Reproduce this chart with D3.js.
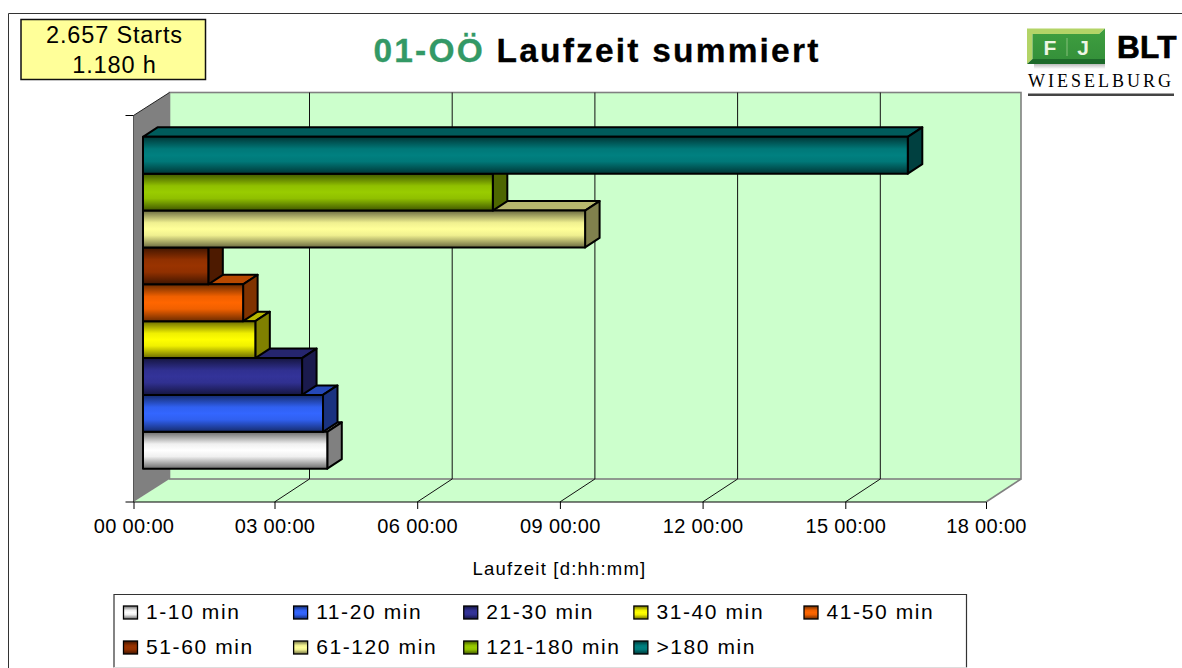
<!DOCTYPE html>
<html><head><meta charset="utf-8">
<script src="https://cdn.jsdelivr.net/npm/d3@7"></script>
<style>html,body{margin:0;padding:0;background:#fff}svg{display:block}text{font-family:"Liberation Sans",Arial,sans-serif;fill:#000}</style>
</head><body><svg id="c" width="1182" height="668"></svg>
<script>
const categories=["1-10 min","11-20 min","21-30 min","31-40 min","41-50 min","51-60 min","61-120 min","121-180 min",">180 min"];
const durationsDays=[3.91,3.82,3.38,2.39,2.13,1.39,9.33,7.39,16.13];
const faceColors=["#ffffff","#3366ff","#333399","#ffff00","#ff6600","#993300","#ffff99","#99cc00","#008080"];
const tickDays=[0,3,6,9,12,15,18];
const tickLabels=["00 00:00","03 00:00","06 00:00","09 00:00","12 00:00","15 00:00","18 00:00"];
const titleCode="01-OÖ";
const titleText="Laufzeit summiert";
const infoLines=["2.657 Starts","1.180 h"];
const axisTitle="Laufzeit [d:hh:mm]";

const svg=d3.select("#c");
const defs=svg.append("defs");
const x=d3.scaleLinear().domain([0,3,15,18]).range([133.5,274.5,845.3,986]);
const y=d3.scaleBand().domain(categories).range([502,115.5]).paddingInner(0).paddingOuter(0.74);
const wall={dx:35,dy:-23}, barOff={dx:9.5,dy:-6}, barDepth={dx:14.5,dy:-9.5};
const yTop=115.5,yBot=502;
const path=p=>"M"+p.map(q=>q.join(",")).join("L")+"Z";
const shade=(c,k)=>{const r=d3.rgb(c);return d3.rgb(r.r*k,r.g*k,r.b*k).formatHex();};

categories.forEach((c,i)=>{
  const g=defs.append("linearGradient").attr("id","g"+i).attr("x1",0).attr("x2",0).attr("y1",0).attr("y2",1);
  [[0,.42],[.33,.94],[.5,1],[.67,.94],[1,.42]].forEach(([o,k])=>g.append("stop").attr("offset",o).attr("stop-color",shade(faceColors[i],k)));
});

// frame
svg.append("path").attr("d","M8.5,668V13.5H1182").attr("fill","none").attr("stroke","#333").attr("stroke-width",1);

// info box
svg.append("rect").attr("x",21).attr("y",19.5).attr("width",184.5).attr("height",60).attr("fill","#ffff99").attr("stroke","#111").attr("stroke-width",1.5);
infoLines.forEach((t,i)=>svg.append("text").attr("x",114.5).attr("y",[42.7,72.5][i]).attr("text-anchor","middle").attr("font-size",23.5).style("letter-spacing","0.85px").text(t));

// title
const tt=svg.append("text").attr("x",597).attr("y",62).attr("text-anchor","middle").attr("font-size",33.5).attr("font-weight","bold").attr("stroke-width",.3).style("letter-spacing","2.2px");
tt.append("tspan").style("fill","#339966").attr("stroke","#339966").text(titleCode+" ");
tt.append("tspan").attr("stroke","#000").text(titleText);

// logo
const lg=svg.append("g");
const lgGrad=defs.append("linearGradient").attr("id","lg").attr("x1",0).attr("x2",0).attr("y1",0).attr("y2",1);
lgGrad.append("stop").attr("offset",0).attr("stop-color","#3f9f40");
lgGrad.append("stop").attr("offset",1).attr("stop-color","#35913a");
const lgShadow=defs.append("linearGradient").attr("id","lgs").attr("x1",0).attr("x2",0).attr("y1",0).attr("y2",1);
lgShadow.append("stop").attr("offset",0).attr("stop-color","#bbbbbb");
lgShadow.append("stop").attr("offset",1).attr("stop-color","#ffffff");
lg.append("rect").attr("x",1034).attr("y",64).attr("width",71).attr("height",5).attr("fill","url(#lgs)");
lg.append("path").attr("d","M1027,28.5H1105L1099,34H1032.5V59L1027,64Z").attr("fill","#b3d467");
lg.append("path").attr("d","M1027,64L1032.5,59H1105V64Z").attr("fill","#1d6a2a");
lg.append("path").attr("d","M1032.5,34H1099L1105,28.5V59H1032.5Z").attr("fill","url(#lg)");
lg.append("text").attr("x",1050).attr("y",55).attr("text-anchor","middle").attr("font-size",21).attr("font-weight","bold").style("fill","#eef5e4").text("F");
lg.append("rect").attr("x",1066.5).attr("y",38).attr("width",1).attr("height",18).attr("fill","#86c07a");
lg.append("text").attr("x",1083).attr("y",55).attr("text-anchor","middle").attr("font-size",21).attr("font-weight","bold").style("fill","#eef5e4").text("J");
lg.append("text").attr("x",1117).attr("y",58).attr("font-size",31.5).attr("font-weight","bold").attr("stroke","#000").attr("stroke-width",.7).style("letter-spacing","0.3px").text("BLT");
lg.append("text").attr("x",1028).attr("y",86.7).attr("font-size",18).style("font-family","'Liberation Serif',serif").style("letter-spacing","3px").text("WIESELBURG");
lg.append("rect").attr("x",1028).attr("y",93.5).attr("width",146).attr("height",2.5).attr("fill","#444");

// walls
const x0=x(0),xMax=x(18);
const plotG=svg.append("g");
plotG.append("path").attr("d",path([[x0,yBot],[x0+wall.dx,yBot+wall.dy],[xMax+wall.dx,yBot+wall.dy],[xMax,yBot]])).attr("fill","#ccffcc");
plotG.append("rect").attr("x",x0+wall.dx+1).attr("y",yTop+wall.dy).attr("width",xMax-x0-1).attr("height",yBot-yTop).attr("fill","#ccffcc").attr("stroke","#808080").attr("stroke-width",1.6);
plotG.append("path").attr("d",path([[x0,yTop],[x0+wall.dx+1,yTop+wall.dy],[x0+wall.dx+1,yBot+wall.dy],[x0,yBot]])).attr("fill","#808080");
plotG.append("path").attr("d",`M${x0},${yTop}L${x0+wall.dx+1},${yTop+wall.dy}`).attr("stroke","#222").attr("fill","none");
// gridlines
tickDays.slice(1,-1).forEach(d=>{
  plotG.append("path").attr("d",`M${x(d)},${yBot}L${x(d)+wall.dx},${yBot+wall.dy}V${yTop+wall.dy}`).attr("fill","none").attr("stroke","#111").attr("stroke-width",1);
});
plotG.append("path").attr("d",`M${xMax},${yBot}L${xMax+wall.dx},${yBot+wall.dy}`).attr("fill","none").attr("stroke","#808080").attr("stroke-width",1.6);

// axes
const axG=svg.append("g");
axG.append("path").attr("d",`M${x0},${yTop}V${yBot}`).attr("stroke","#555").attr("fill","none");
axG.append("path").attr("d",`M${x0-8},${yBot}H${xMax}`).attr("stroke","#000").attr("fill","none");
axG.append("path").attr("d",`M${x0-8},${yTop}H${x0}`).attr("stroke","#000").attr("fill","none");
const xAxis=d3.axisBottom(x).tickValues(tickDays).tickFormat((d,i)=>tickLabels[i]).tickSize(7).tickPadding(10);
const ag=axG.append("g").attr("transform",`translate(0,${yBot})`).call(xAxis);
ag.select(".domain").remove();
ag.selectAll("line").attr("stroke","#000");
ag.selectAll("text").attr("font-size",20).style("font-family","'Liberation Sans',Arial,sans-serif").style("letter-spacing","0.35px");

// bars (bottom to top so upper bars overlap tops of lower ones)
const bars=svg.append("g");
categories.forEach((c,i)=>{
  const v=durationsDays[i];
  const L=x(0)+barOff.dx,R=x(v)+barOff.dx,T=y(c)+barOff.dy,H=y.bandwidth(),B=T+H;
  const dx=barDepth.dx,dy=barDepth.dy;
  const g=bars.append("g").attr("stroke","#000").attr("stroke-width",2).attr("stroke-linejoin","round");
  g.append("path").attr("d",path([[L,T],[L+dx,T+dy],[R+dx,T+dy],[R,T]])).attr("fill",shade(faceColors[i],.72));
  g.append("path").attr("d",path([[R,T],[R+dx,T+dy],[R+dx,B+dy],[R,B]])).attr("fill",shade(faceColors[i],.5));
  g.append("rect").attr("x",L).attr("y",T).attr("width",R-L).attr("height",H).attr("fill",`url(#g${i})`);
});

// axis title
svg.append("text").attr("x",559.5).attr("y",575).attr("text-anchor","middle").attr("font-size",18.5).style("letter-spacing","1.2px").text(axisTitle);

// legend
svg.append("rect").attr("x",114).attr("y",594.5).attr("width",852.5).attr("height",73).attr("fill","#fff");
svg.append("path").attr("d","M114,667.5V594.5H966.5V667.5").attr("fill","none").attr("stroke","#333").attr("stroke-width",1.2);
svg.append("path").attr("d","M114,667.5H966.5").attr("fill","none").attr("stroke","#ddd");
const legX=d3.scalePoint().domain([0,1,2,3,4]).range([123,803.5]);
const legY=[612.5,647.5];
categories.forEach((c,i)=>{
  const col=i%5,row=Math.floor(i/5);
  const g=svg.append("g").attr("transform",`translate(${legX(col)},${legY[row]})`);
  g.append("rect").attr("x",.5).attr("y",-6.5).attr("width",14).attr("height",13).attr("fill",`url(#g${i})`).attr("stroke","#000").attr("stroke-width",1.3);
  g.append("text").attr("x",23).attr("y",6.5).attr("font-size",21).style("letter-spacing","1.6px").text(c);
});
</script></body></html>
